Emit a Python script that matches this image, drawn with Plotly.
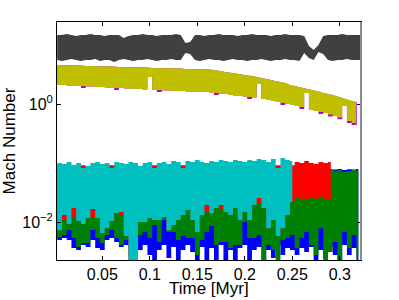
import plotly.graph_objects as go

# ---- time sampling grid [Myr] (cell starts) ----
TIME = [0.0025, 0.0075, 0.0125, 0.0175, 0.0225, 0.0275, 0.0325, 0.0375, 0.0425, 0.0475,
        0.0525, 0.0575, 0.0625, 0.0675, 0.0725, 0.0775, 0.0825, 0.0875, 0.0925, 0.0975,
        0.1025, 0.1075, 0.1125, 0.1175, 0.1225, 0.1275, 0.1325, 0.1375, 0.1425, 0.1475,
        0.1525, 0.1575, 0.1625, 0.1675, 0.1725, 0.1775, 0.1825, 0.1875, 0.1925, 0.1975,
        0.2025, 0.2075, 0.2125, 0.2175, 0.2225, 0.2275, 0.2325, 0.2375, 0.2425, 0.2475,
        0.2525, 0.2575, 0.2625, 0.2675, 0.2725, 0.2775, 0.2825, 0.2875, 0.2925, 0.2975,
        0.3025, 0.3075, 0.3125, 0.3175, 0.3225]

# end times of each series
END_CYAN = 0.25
END_RED = 0.2905
END_GB = 0.3195
END_YM = 0.317
END_K = 0.3225

# ---- Mach number envelopes (max / min of the rapidly oscillating curves) ----
blue_upper = [0.06] * 58 + [0.078, 0.080, 0.077, 0.079, 0.078, 0.080, 0.080]
blue_lower = [0.00504, 0.00545, 0.00504, 0.00369, 0.00342, 0.00415, 0.00384, 0.00504, 0.00369, 0.00342,
              0.00504, 0.00545, 0.00466, 0.00384, 0.00415, 0.00281, 0.00232, 0.00342, 0.00415, 0.00281,
              0.00214, 0.00342, 0.00415, 0.00250, 0.00384, 0.00214, 0.00342, 0.00415, 0.00316, 0.00214,
              0.00384, 0.00214, 0.00369, 0.00214, 0.00415, 0.00214, 0.00342, 0.00214, 0.00369, 0.00415,
              0.00214, 0.00342, 0.00384, 0.00214, 0.00342, 0.00250, 0.00415, 0.00281, 0.00369, 0.00342,
              0.00281, 0.00369, 0.00316, 0.00384, 0.00214, 0.00342, 0.00250, 0.00384, 0.00281, 0.00214,
              0.00415, 0.00281, 0.00369, 0.00214, 0.00214]

green_upper = [0.08] * 58 + [0.0738, 0.0770, 0.0708, 0.0738, 0.0770, 0.0738, 0.0738]
green_lower = [0.00567, 0.00612, 0.00744, 0.00545, 0.00384, 0.00449, 0.00449, 0.00744, 0.00545, 0.00449,
               0.00612, 0.00744, 0.00545, 0.00415, 0.00504, 0.00612, 0.00342, 0.00612, 0.00688, 0.00545,
               0.0090, 0.00466, 0.0110, 0.00688, 0.00688, 0.00504, 0.00589, 0.00545, 0.00545, 0.00281,
               0.00504, 0.00688, 0.00866, 0.00415, 0.00466, 0.00466, 0.00369, 0.00415, 0.00415, 0.0102,
               0.00545, 0.00545, 0.00612, 0.00214, 0.00415, 0.00342, 0.00214, 0.00504, 0.00545, 0.00612,
               0.00369, 0.00545, 0.00688, 0.00415, 0.00281, 0.0080, 0.00214, 0.00316, 0.00466, 0.00214,
               0.00688, 0.00369, 0.00612, 0.00250, 0.00250]

red_upper = [0.092, 0.092, 0.092, 0.092, 0.092, 0.092, 0.088, 0.092, 0.092, 0.092,
             0.092, 0.092, 0.092, 0.092, 0.092, 0.092, 0.092, 0.088, 0.092, 0.092,
             0.092, 0.092, 0.092, 0.092, 0.092, 0.092, 0.092, 0.092, 0.092, 0.092,
             0.092, 0.092, 0.092, 0.092, 0.092, 0.092, 0.092, 0.092, 0.092, 0.092,
             0.092, 0.092, 0.092, 0.092, 0.092, 0.092, 0.092, 0.092, 0.092, 0.092,
             0.105, 0.101, 0.109, 0.101, 0.097, 0.105, 0.101, 0.105, 0.105]
red_lower = [0.0074, 0.0110, 0.0094, 0.0119, 0.0106, 0.0094, 0.0119, 0.0123, 0.0119, 0.0066,
             0.0080, 0.0106, 0.0144, 0.0128, 0.0059, 0.0021, 0.0021, 0.0102, 0.0102, 0.0119,
             0.0110, 0.0110, 0.0123, 0.0074, 0.0090, 0.0110, 0.0133, 0.0162, 0.0110, 0.0069,
             0.0133, 0.0155, 0.0144, 0.0175, 0.0170, 0.0150, 0.0133, 0.0175, 0.0110, 0.0150,
             0.0110, 0.0197, 0.0205, 0.0175, 0.0080, 0.0110, 0.0059, 0.0080, 0.0133, 0.0221,
             0.026, 0.025, 0.024, 0.026, 0.025, 0.027, 0.025, 0.024, 0.024]

cyan_upper = [0.101, 0.097, 0.105, 0.093, 0.101, 0.083, 0.090, 0.101, 0.105, 0.097,
              0.101, 0.083, 0.105, 0.101, 0.097, 0.105, 0.101, 0.090, 0.101, 0.105,
              0.083, 0.101, 0.105, 0.097, 0.109, 0.105, 0.083, 0.109, 0.105, 0.113,
              0.105, 0.101, 0.109, 0.105, 0.113, 0.109, 0.105, 0.113, 0.109, 0.105,
              0.113, 0.109, 0.118, 0.113, 0.105, 0.118, 0.083, 0.122, 0.113, 0.109, 0.109]
cyan_lower = [0.0074, 0.0133, 0.0094, 0.0175, 0.0106, 0.0094, 0.0119, 0.0168, 0.0119, 0.0066,
              0.0080, 0.0106, 0.0144, 0.0150, 0.0059, 0.0021, 0.0021, 0.0102, 0.0102, 0.0119,
              0.0110, 0.0110, 0.0123, 0.0074, 0.0090, 0.0110, 0.0133, 0.0162, 0.0110, 0.0069,
              0.0133, 0.0197, 0.0144, 0.0175, 0.0197, 0.0150, 0.0133, 0.0175, 0.0110, 0.0150,
              0.0110, 0.0197, 0.0258, 0.0175, 0.0080, 0.0110, 0.0059, 0.0080, 0.0133, 0.0221, 0.0221]

yellow_upper = [4.56, 4.56, 4.56, 4.47, 4.47, 4.47, 4.38, 4.38, 4.38, 4.38,
                4.30, 4.30, 4.30, 4.22, 4.22, 4.22, 4.22, 4.14, 4.14, 4.14,
                4.06, 4.06, 4.06, 4.06, 3.98, 3.98, 3.98, 3.90, 3.90, 3.90,
                3.90, 3.90, 3.83, 3.75, 3.61, 3.47, 3.40, 3.34, 3.21, 3.09,
                3.03, 2.97, 2.86, 2.75, 2.65, 2.54, 2.45, 2.35, 2.26, 2.09,
                2.01, 1.94, 1.86, 1.79, 1.72, 1.63, 1.53, 1.48, 1.42, 1.34,
                1.26, 1.21, 1.12, 1.08]
yellow_lower = [2.09, 2.09, 2.05, 2.05, 2.01, 2.01, 1.97, 1.97, 1.94, 1.94,
                1.90, 1.90, 1.86, 1.86, 1.83, 1.83, 1.79, 1.79, 1.76, 2.86,
                1.72, 1.72, 1.69, 1.69, 1.66, 1.66, 1.66, 1.63, 1.63, 1.59,
                1.59, 1.59, 1.56, 1.53, 1.50, 1.48, 1.42, 1.39, 1.37, 1.34,
                1.31, 1.29, 2.18, 1.21, 1.17, 1.12, 1.08, 1.04, 1.00, 0.962,
                0.925, 0.890, 1.53, 0.792, 0.762, 0.733, 0.705, 0.665, 0.627, 0.592,
                0.925, 0.516, 0.478, 0.442]

magenta_upper = yellow_upper
magenta_lower = [2.09, 2.09, 2.05, 2.05, 2.01, 1.86, 1.97, 1.97, 1.94, 1.94,
                 1.90, 1.90, 1.72, 1.86, 1.83, 1.83, 1.79, 1.79, 1.76, 2.86,
                 1.72, 1.59, 1.69, 1.69, 1.66, 1.66, 1.66, 1.63, 1.63, 1.59,
                 1.59, 1.59, 1.56, 1.42, 1.50, 1.48, 1.42, 1.39, 1.37, 1.34,
                 1.21, 1.29, 2.18, 1.21, 1.17, 1.12, 1.08, 0.96, 1.00, 0.962,
                 0.925, 0.82, 1.53, 0.792, 0.762, 0.68, 0.705, 0.615, 0.627, 0.55,
                 0.925, 0.478, 0.44, 0.41]

black_upper = [14.6, 14.6, 15.2, 14.6, 14.1, 14.6, 14.6, 15.2, 14.6, 14.6,
               14.1, 14.6, 14.6, 14.6, 13.0, 14.1, 14.6, 14.6, 15.2, 14.6,
               14.6, 14.1, 14.6, 14.6, 14.6, 15.2, 14.6, 10.7, 11.1, 14.6,
               14.6, 14.1, 14.6, 14.6, 15.2, 14.6, 14.6, 14.6, 14.1, 14.6,
               14.6, 15.2, 14.6, 14.6, 14.6, 14.1, 14.6, 14.6, 15.2, 14.6,
               14.6, 14.6, 14.1, 9.55, 8.17, 9.93, 14.1, 14.6, 14.6, 14.6,
               15.2, 14.6, 14.6, 14.6, 14.6]
black_lower = [5.54, 5.32, 5.54, 5.75, 5.54, 5.32, 5.54, 5.54, 5.75, 5.32,
               5.54, 5.54, 5.12, 5.54, 5.75, 5.54, 5.32, 5.54, 5.54, 5.75,
               5.54, 5.32, 5.54, 5.54, 5.75, 5.54, 5.54, 7.27, 6.99, 5.54,
               5.32, 5.54, 5.75, 5.54, 5.54, 5.32, 5.54, 5.75, 5.54, 5.54,
               5.32, 5.54, 5.54, 5.75, 5.54, 5.32, 5.54, 5.54, 5.75, 5.54,
               5.54, 5.32, 7.27, 5.98, 5.54, 7.55, 6.99, 5.54, 5.32, 5.54,
               5.54, 5.75, 5.54, 5.54, 5.54]

X_TICKS = [0.05, 0.1, 0.15, 0.2, 0.25, 0.3]
X_TICK_TEXT = ["0.05", "0.1", "0.15", "0.2", "0.25", "0.3"]
Y_TICKS = [0.01, 1]
Y_TICK_TEXT = ["10<sup>\u22122</sup>", "10<sup>0</sup>"]

# (name, colour, times, upper, lower, upper shape, lower shape)
series = [
    ("b", "#0000ff", TIME[:64] + [END_GB], blue_upper, blue_lower, "hv", "hv"),
    ("g", "#008000", TIME[:64] + [END_GB], green_upper, green_lower, "hv", "hv"),
    ("r", "#ff0000", TIME[:58] + [END_RED], red_upper, red_lower, "hv", "hv"),
    ("c", "#00bfbf", TIME[:50] + [END_CYAN], cyan_upper, cyan_lower, "hv", "hv"),
    ("m", "#bf00bf", TIME[:63] + [END_YM + 0.0008], magenta_upper, magenta_lower, "linear", "hv"),
    ("y", "#bfbf00", TIME[:63] + [END_YM], yellow_upper, yellow_lower, "linear", "hv"),
    ("k", "#404040", TIME[:64] + [END_K], black_upper, black_lower, "linear", "linear"),
]

fig = go.Figure()
for name, col, t, up, lo, sh_up, sh_lo in series:
    fig.add_trace(go.Scatter(x=t, y=up, mode="lines", line=dict(width=0, color=col, shape=sh_up),
                             showlegend=False, hoverinfo="skip"))
    fig.add_trace(go.Scatter(x=t, y=lo, mode="lines", line=dict(width=0, color=col, shape=sh_lo),
                             fill="tonexty", fillcolor=col, name=name, showlegend=False,
                             hoverinfo="skip"))

font_family = "Liberation Sans, Arial, Helvetica, sans-serif"
fig.update_layout(
    width=399, height=300,
    margin=dict(l=57, r=38, t=22, b=40),
    paper_bgcolor="white", plot_bgcolor="white",
    font=dict(family=font_family, color="black", size=16),
    xaxis=dict(range=[0.0023, 0.3223], tickvals=X_TICKS, ticktext=X_TICK_TEXT,
               ticks="inside", ticklen=4, tickcolor="black", showline=True, linecolor="black",
               linewidth=1, mirror="ticks", showgrid=False, zeroline=False,
               tickfont=dict(size=16), automargin=False),
    yaxis=dict(type="log", range=[-2.635, 1.385], tickvals=Y_TICKS, ticktext=Y_TICK_TEXT,
               ticks="inside", ticklen=4, tickcolor="black", showline=True, linecolor="black",
               linewidth=1, mirror="ticks", showgrid=False, zeroline=False,
               tickfont=dict(size=16), automargin=False,
               title=dict(text="Mach Number", font=dict(size=17), standoff=2)),
    annotations=[dict(text="Time [Myr]", xref="paper", yref="paper", x=0.5, y=-0.168,
                      xanchor="center", yanchor="bottom", showarrow=False,
                      font=dict(size=17))],
    shapes=[dict(type="line", xref="paper", yref="paper", x0=1, x1=1, y0=0, y1=1,
                 line=dict(color="#8c8c8c", width=2), layer="above")],
)

fig.write_html("out.html", config={"displayModeBar": False},
               post_script="document.body.style.margin='0';document.body.style.padding='0';")
